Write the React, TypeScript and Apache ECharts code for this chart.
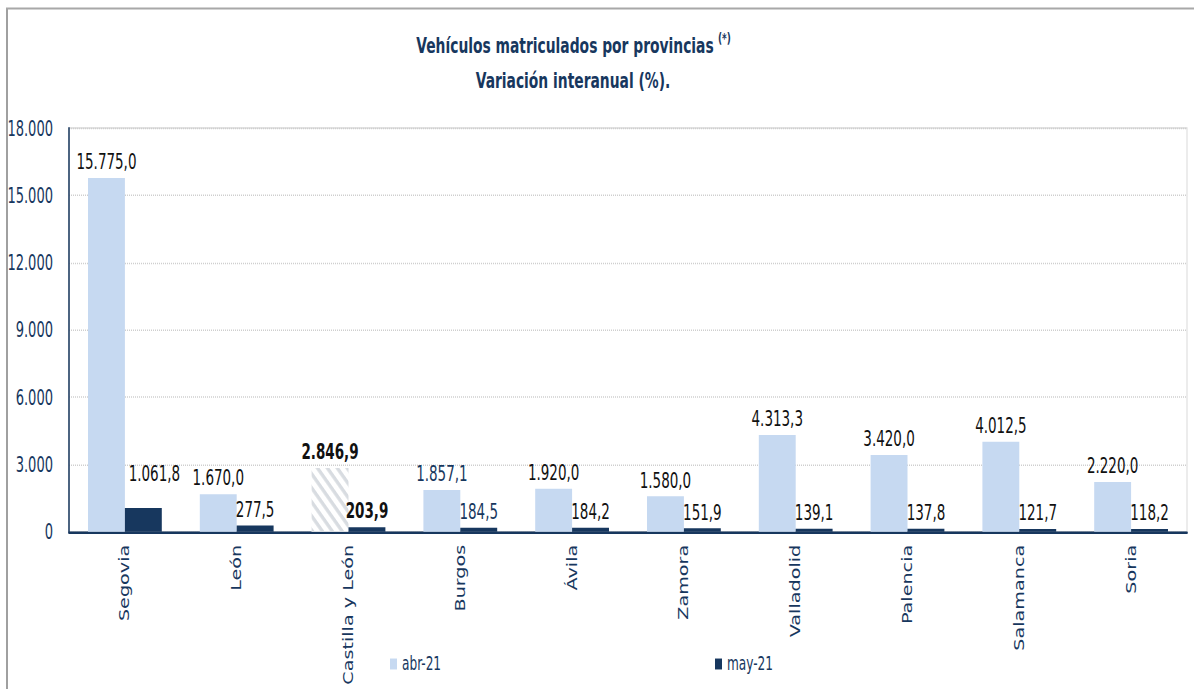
import React, { useEffect, useRef } from "react";
import * as echarts from "echarts";

const categories = ["Segovia", "León", "Castilla y León", "Burgos", "Ávila", "Zamora", "Valladolid", "Palencia", "Salamanca", "Soria"];
const abr21 = [15775.0, 1670.0, 2846.9, 1857.1, 1920.0, 1580.0, 4313.3, 3420.0, 4012.5, 2220.0];
const may21 = [1061.8, 277.5, 203.9, 184.5, 184.2, 151.9, 139.1, 137.8, 121.7, 118.2];
const seriesNames = ["abr-21", "may-21"];
const titleLine1 = "Vehículos matriculados por provincias";
const titleSup = "(*)";
const titleLine2 = "Variación interanual (%).";

const NAVY = "#17375E";
const LIGHT = "#C6D9F1";
const COND = "'DejaVu Sans Condensed', 'DejaVu Sans', sans-serif";

// The reference picture is stretched vertically; the chart is drawn in a
// shorter box and stretched with CSS to reproduce the tall, narrow lettering.
const PAGE_W = 1194;
const PAGE_H = 689;
const CHART_H = 485;
const SY = PAGE_H / CHART_H;
const py = (v: number) => v / SY; // page y -> chart y

function thousands(s: string): string {
  return s.replace(/\B(?=(\d{3})+(?!\d))/g, ".");
}
function fmt1(v: number): string {
  const [i, d] = v.toFixed(1).split(".");
  return thousands(i) + "," + d;
}

export default function App() {
  const ref = useRef<HTMLDivElement>(null);
  useEffect(() => {
    if (!ref.current) return;
    const chart = echarts.init(ref.current, undefined, { renderer: "svg" });
    const totalIdx = categories.indexOf("Castilla y León");
    const blueIdx = categories.indexOf("Burgos");
    const abrData = abr21.map((v, i) => {
      const item: any = { value: v };
      if (i === totalIdx) {
        item.itemStyle = {
          color: "#ffffff",
          decal: {
            symbol: "rect",
            symbolSize: 1,
            dashArrayX: [1, 0],
            dashArrayY: [3, 4],
            rotation: Math.PI / 4,
            color: "#d8dce1",
          },
        };
        item.label = { fontWeight: "bold" };
      }
      if (i === blueIdx) item.label = { color: NAVY };
      return item;
    });
    const mayData = may21.map((v, i) => {
      const item: any = { value: v };
      if (i === totalIdx) item.label = { fontWeight: "bold" };
      if (i === blueIdx) item.label = { color: NAVY };
      if (i === 0) item.label = { offset: [11, -13] };
      return item;
    });
    const labelBase = {
      show: true,
      position: "top",
      distance: 4,
      fontFamily: COND,
      fontSize: 15,
      color: "#111111",
      formatter: (p: any) => fmt1(p.value),
    };
    const legendBase = {
      top: py(664) - 7,
      padding: 0,
      itemWidth: 7,
      itemHeight: 7.7,
      itemGap: 3,
      icon: "rect",
      textStyle: { fontFamily: COND, fontSize: 13.5, color: NAVY },
    };
    chart.setOption({
      animation: false,
      backgroundColor: "#ffffff",
      grid: {
        left: 69,
        right: 7,
        top: py(128),
        bottom: CHART_H - py(535),
        show: true,
        borderColor: "#d9d9d9",
        borderWidth: 1,
        backgroundColor: "transparent",
      },
      legend: [
        { ...legendBase, data: [seriesNames[0]], left: 390 },
        { ...legendBase, data: [seriesNames[1]], left: 715 },
      ],
      xAxis: {
        type: "category",
        data: categories,
        axisLine: { lineStyle: { color: NAVY, width: 1.7 } },
        axisTick: { show: false },
        axisLabel: {
          rotate: 90,
          margin: py(13),
          interval: 0,
          fontFamily: "'DejaVu Sans', Verdana, sans-serif",
          fontSize: 13.5,
          color: NAVY,
        },
      },
      yAxis: {
        type: "value",
        min: 0,
        max: 18000,
        interval: 3000,
        axisLine: { show: true, lineStyle: { color: NAVY, width: 1.5 } },
        axisTick: { show: false },
        axisLabel: {
          margin: 16,
          fontFamily: COND,
          fontSize: 14.5,
          color: NAVY,
          formatter: (v: number) => thousands(String(Math.round(v))),
        },
        splitLine: { lineStyle: { color: "#cfcfcf", type: "dotted", width: 1 } },
      },
      series: [
        {
          name: seriesNames[0],
          type: "bar",
          data: abrData,
          barWidth: "33%",
          barGap: "0%",
          itemStyle: { color: LIGHT },
          label: labelBase,
        },
        {
          name: seriesNames[1],
          type: "bar",
          data: mayData,
          barWidth: "33%",
          barGap: "0%",
          itemStyle: { color: NAVY },
          label: labelBase,
        },
      ],
      graphic: [
        { type: "line", shape: { x1: 7, y1: py(8), x2: 7, y2: CHART_H }, style: { stroke: "#a0a0a0", lineWidth: 2 } },
        { type: "line", shape: { x1: 6, y1: py(8.5), x2: PAGE_W, y2: py(8.5) }, style: { stroke: "#a8a8a8", lineWidth: 1.4 } },
        {
          type: "text",
          x: 565,
          y: py(45),
          style: {
            text: titleLine1,
            fontFamily: COND,
            fontWeight: "bold",
            fontSize: 15.4,
            fill: NAVY,
            align: "center",
            verticalAlign: "middle",
          },
        },
        {
          type: "text",
          x: 718,
          y: py(38),
          style: {
            text: titleSup,
            fontFamily: COND,
            fontWeight: "bold",
            fontSize: 10,
            fill: NAVY,
            align: "left",
            verticalAlign: "middle",
          },
        },
        {
          type: "text",
          x: 573,
          y: py(80),
          style: {
            text: titleLine2,
            fontFamily: COND,
            fontWeight: "bold",
            fontSize: 15.4,
            fill: NAVY,
            align: "center",
            verticalAlign: "middle",
          },
        },
      ],
    });
    return () => chart.dispose();
  }, []);
  return (
    <div
      style={{
        position: "absolute",
        left: 0,
        top: 0,
        width: PAGE_W,
        height: PAGE_H,
        overflow: "hidden",
      }}
    >
      <div
        ref={ref}
        style={{
          width: PAGE_W,
          height: CHART_H,
          transform: `scaleY(${SY})`,
          transformOrigin: "0 0",
        }}
      />
    </div>
  );
}
